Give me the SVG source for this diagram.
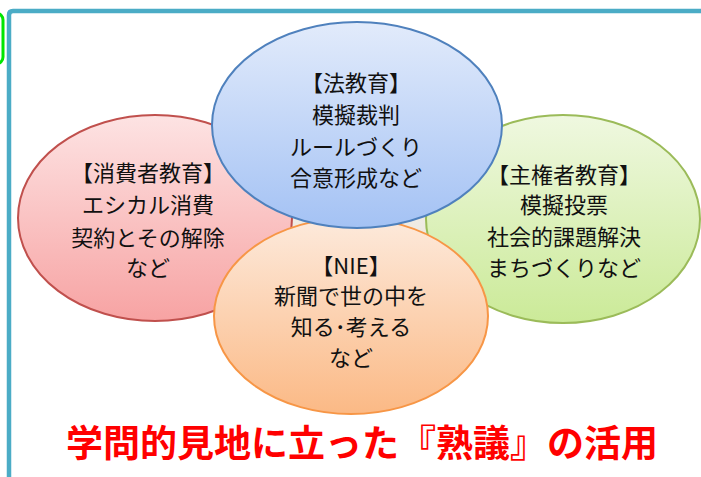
<svg xmlns="http://www.w3.org/2000/svg" width="701" height="477" viewBox="0 0 701 477">
<defs>
<linearGradient id="gBlue" x1="0" y1="0" x2="0" y2="1"><stop offset="0" stop-color="#e2ebfb"/><stop offset="1" stop-color="#a4c2f4"/></linearGradient>
<linearGradient id="gRed" x1="0" y1="0" x2="0" y2="1"><stop offset="0" stop-color="#fde3e3"/><stop offset="1" stop-color="#f7a3a3"/></linearGradient>
<linearGradient id="gGreen" x1="0" y1="0" x2="0" y2="1"><stop offset="0" stop-color="#eff8e0"/><stop offset="1" stop-color="#cbea98"/></linearGradient>
<linearGradient id="gOrange" x1="0" y1="0" x2="0" y2="1"><stop offset="0" stop-color="#fdeadc"/><stop offset="1" stop-color="#fbb985"/></linearGradient>
<linearGradient id="gBack" x1="0" y1="0" x2="0" y2="1"><stop offset="0" stop-color="#f7f4ef"/><stop offset="1" stop-color="#e9e3da"/></linearGradient>
</defs>
<style>
.lbl{font-family:"Noto Sans CJK JP","Noto Sans CJK SC",sans-serif;font-size:22px;fill:#111;text-anchor:middle}
.title{font-family:"Noto Sans CJK JP","Noto Sans CJK SC",sans-serif;font-size:37px;font-weight:bold;fill:#ff0000;text-anchor:middle}
.ell{stroke-width:2}
</style>
<rect width="701" height="477" fill="#ffffff"/>
<g id="frame">
<path d="M9 477 V15 Q9 11 13 11 H701" fill="none" stroke="#4bacc6" stroke-width="4.5"/>
<rect x="-30" y="13" width="33" height="51" rx="7" fill="none" stroke="#00e600" stroke-width="3"/>
</g>
<g id="backdrop"><rect x="280" y="140" width="150" height="150" fill="url(#gBack)" stroke="#a08f80" stroke-width="1.5"/></g>
<g id="connectors"></g>
<g id="node-consumer">
<ellipse class="ell" cx="155" cy="218" rx="137" ry="103" fill="url(#gRed)" stroke="#c0504d"/>
<text class="lbl" x="148" y="181">【消費者教育】</text>
<text class="lbl" x="148" y="213">エシカル消費</text>
<text class="lbl" x="148" y="246">契約とその解除</text>
<text class="lbl" x="148" y="276">など</text>
</g>
<g id="node-sovereign">
<ellipse class="ell" cx="563" cy="219" rx="137" ry="104" fill="url(#gGreen)" stroke="#9bbb59"/>
<text class="lbl" x="564" y="183">【主権者教育】</text>
<text class="lbl" x="564" y="213">模擬投票</text>
<text class="lbl" x="564" y="245">社会的課題解決</text>
<text class="lbl" x="564" y="276">まちづくりなど</text>
</g>
<g id="node-nie">
<ellipse class="ell" cx="351" cy="316" rx="137" ry="98" fill="url(#gOrange)" stroke="#f79646"/>
<text class="lbl" x="351" y="274">【NIE】</text>
<text class="lbl" x="351" y="304">新聞で世の中を</text>
<text class="lbl" x="351" y="335">知る･考える</text>
<text class="lbl" x="351" y="366">など</text>
</g>
<g id="node-law">
<ellipse class="ell" cx="357" cy="125" rx="145" ry="103" fill="url(#gBlue)" stroke="#4f81bd"/>
<text class="lbl" x="356" y="91">【法教育】</text>
<text class="lbl" x="356" y="123">模擬裁判</text>
<text class="lbl" x="356" y="155">ルールづくり</text>
<text class="lbl" x="356" y="186">合意形成など</text>
</g>
<g id="title"><text class="title" x="362" y="457">学問的見地に立った『熟議』の活用</text></g>
</svg>
